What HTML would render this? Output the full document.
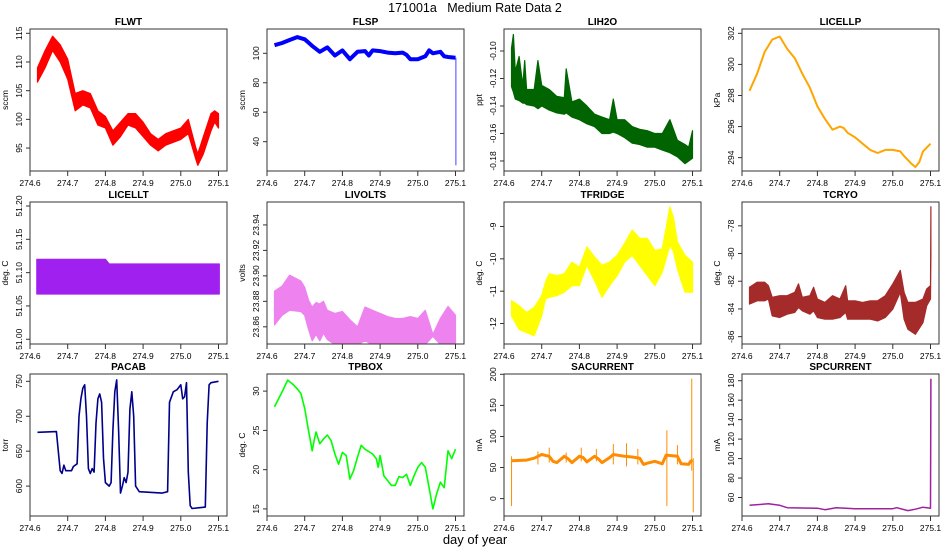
<!DOCTYPE html>
<html><head><meta charset="utf-8"><style>
body{margin:0;background:#fff}
svg{display:block;font-family:"Liberation Sans",sans-serif}
</style></head><body>
<svg id="chart" width="950" height="550" viewBox="0 0 950 550" xmlns="http://www.w3.org/2000/svg">
<text x="475" y="12" text-anchor="middle" font-size="12.5" style="white-space:pre">171001a   Medium Rate Data 2</text>
<text x="475" y="544" text-anchor="middle" font-size="13">day of year</text>
</svg>
<script>
// ---- data ----
const xTicks=[274.6,274.7,274.8,274.9,275.0,275.1];
const xTickLabels=["274.6","274.7","274.8","274.9","275.0","275.1"];

const flwtX=[274.62,274.64,274.66,274.68,274.70,274.72,274.74,274.76,274.78,274.80,274.82,274.84,274.86,274.88,274.90,274.92,274.94,274.96,274.98,275.00,275.02,275.04,275.045,275.06,275.08,275.09,275.10];
const flwtLo=[106.5,109,112,110,107,101.5,102.5,102,99,98.5,95.5,97,99,98.5,97,95.5,94.5,95.5,96,96.5,97.5,93,92,94,98,99.5,98.5];
const flwtHi=[109,112,114.5,113,110.5,104.5,105,104.5,101.5,100.5,98,99.5,101,101,99.5,97.5,96.5,97.5,98,98.5,100,95,94,97,101,101.5,101];

const flspX=[274.62,274.64,274.66,274.68,274.70,274.72,274.74,274.76,274.78,274.80,274.82,274.84,274.86,274.87,274.88,274.90,274.92,274.94,274.96,274.97,274.98,275.00,275.02,275.03,275.04,275.06,275.07,275.08,275.10];
const flspY=[105.5,107,109,111,109.5,105,101,104,98.5,102,96,101,101.5,98.5,102,101.5,100.5,100,100.5,99,96,96,98,102,100,101,98,97.5,97];
const flspDropX=[275.101,275.101];
const flspDropY=[97,24];

const lih2oX=[274.62,274.625,274.63,274.64,274.65,274.655,274.66,274.68,274.69,274.70,274.72,274.74,274.76,274.765,274.78,274.80,274.82,274.84,274.86,274.88,274.89,274.90,274.92,274.94,274.96,274.98,275.00,275.02,275.04,275.06,275.08,275.09,275.10];
const lih2oLo=[-0.126,-0.130,-0.135,-0.136,-0.138,-0.138,-0.139,-0.140,-0.142,-0.140,-0.143,-0.145,-0.146,-0.145,-0.148,-0.150,-0.153,-0.155,-0.160,-0.160,-0.159,-0.160,-0.163,-0.167,-0.168,-0.170,-0.170,-0.172,-0.174,-0.177,-0.182,-0.180,-0.178];
const lih2oHi=[-0.098,-0.088,-0.115,-0.104,-0.125,-0.107,-0.128,-0.128,-0.107,-0.125,-0.128,-0.133,-0.134,-0.113,-0.137,-0.135,-0.140,-0.146,-0.148,-0.150,-0.135,-0.150,-0.150,-0.155,-0.157,-0.158,-0.160,-0.160,-0.150,-0.165,-0.168,-0.170,-0.158];

const licellpX=[274.62,274.64,274.66,274.68,274.70,274.72,274.74,274.76,274.78,274.80,274.82,274.84,274.86,274.87,274.88,274.90,274.92,274.94,274.96,274.98,275.00,275.02,275.03,275.05,275.06,275.07,275.08,275.10];
const licellpY=[298.3,299.4,300.8,301.6,301.8,301.0,300.4,299.4,298.5,297.3,296.5,295.8,296.0,295.9,295.6,295.3,294.9,294.5,294.3,294.5,294.5,294.4,294.1,293.6,293.4,293.7,294.4,294.9];

const licelltX=[274.618,274.80,274.81,275.102];
const licelltLo=[51.068,51.068,51.068,51.068];
const licelltHi=[51.12,51.12,51.113,51.113];

const livoltsX=[274.62,274.64,274.66,274.69,274.70,274.71,274.72,274.73,274.74,274.75,274.76,274.78,274.80,274.82,274.84,274.86,274.88,274.90,274.92,274.94,274.96,274.98,275.00,275.02,275.04,275.06,275.08,275.10];
const livoltsLo=[23.8615,23.869,23.873,23.872,23.869,23.858,23.849,23.854,23.849,23.855,23.850,23.846,23.846,23.846,23.846,23.849,23.846,23.846,23.846,23.846,23.846,23.846,23.846,23.846,23.8526,23.846,23.846,23.846];
const livoltsHi=[23.888,23.892,23.9005,23.896,23.891,23.881,23.8755,23.879,23.878,23.880,23.873,23.8705,23.872,23.8655,23.860,23.8755,23.873,23.8705,23.868,23.8665,23.8665,23.868,23.8665,23.873,23.854,23.8666,23.876,23.869];

const tfridgeX=[274.62,274.64,274.66,274.68,274.70,274.71,274.72,274.74,274.76,274.78,274.80,274.82,274.84,274.86,274.88,274.90,274.92,274.94,274.96,274.98,275.00,275.02,275.04,275.05,275.06,275.08,275.10];
const tfridgeLo=[-11.76,-12.18,-12.28,-12.38,-11.76,-11.24,-11.19,-11.14,-11.03,-10.83,-10.83,-10.2,-10.67,-11.19,-10.83,-10.52,-10.10,-9.89,-10.2,-10.52,-10.83,-10.41,-9.58,-9.79,-10.31,-11.03,-11.03];
const tfridgeHi=[-11.29,-11.45,-11.66,-11.5,-11.14,-10.72,-10.46,-10.52,-10.46,-10.10,-10.26,-9.63,-9.94,-10.2,-10.10,-9.89,-9.53,-9.11,-9.37,-9.37,-9.74,-9.69,-8.39,-8.75,-9.48,-9.89,-10.10];

const tcryoX=[274.62,274.64,274.66,274.67,274.68,274.70,274.72,274.74,274.75,274.76,274.78,274.79,274.80,274.82,274.84,274.86,274.875,274.88,274.90,274.92,274.94,274.96,274.98,275.00,275.02,275.03,275.04,275.06,275.08,275.09,275.10,275.101];
const tcryoLo=[-83.65,-83.41,-83.41,-83.28,-84.5,-84.62,-84.38,-84.25,-83.89,-84.13,-84.38,-84.13,-84.62,-84.74,-84.74,-84.62,-84.25,-84.74,-84.74,-84.74,-84.74,-84.86,-84.62,-84.01,-82.8,-84.74,-85.47,-85.83,-84.98,-83.77,-83.28,-80.13];
const tcryoHi=[-82.44,-82.07,-82.07,-82.32,-83.16,-83.04,-83.04,-82.8,-82.19,-83.16,-83.04,-82.44,-83.28,-83.53,-83.04,-83.28,-82.32,-83.41,-83.41,-83.53,-83.41,-83.41,-83.04,-82.19,-81.22,-82.8,-83.53,-83.53,-83.28,-82.56,-82.32,-76.62];

const pacabX=[274.62,274.67,274.675,274.68,274.685,274.69,274.695,274.71,274.715,274.725,274.73,274.735,274.74,274.745,274.75,274.755,274.76,274.765,274.77,274.775,274.78,274.785,274.79,274.795,274.80,274.81,274.815,274.82,274.825,274.83,274.835,274.84,274.845,274.85,274.855,274.86,274.865,274.87,274.875,274.88,274.89,274.95,274.965,274.97,274.98,274.99,275.00,275.005,275.01,275.015,275.02,275.025,275.03,275.065,275.07,275.075,275.08,275.10];
const pacabY=[677,678,650,622,618,630,622,622,628,632,700,725,740,745,700,625,618,625,620,690,725,732,720,640,605,600,605,680,735,752,680,590,600,612,605,620,710,735,700,600,592,590,592,720,735,738,745,725,728,748,620,572,568,570,690,745,748,750];

const tpboxX=[274.62,274.64,274.655,274.67,274.68,274.69,274.70,274.71,274.72,274.725,274.73,274.74,274.75,274.76,274.77,274.78,274.79,274.80,274.81,274.82,274.83,274.84,274.85,274.86,274.88,274.89,274.895,274.90,274.91,274.93,274.94,274.95,274.96,274.97,274.98,274.99,275.00,275.01,275.02,275.03,275.04,275.05,275.06,275.07,275.08,275.09,275.10];
const tpboxY=[28.0,29.9,31.4,30.8,30.3,29.7,27.8,25.0,22.4,23.7,24.8,23.3,23.9,24.4,23.7,22.0,20.7,22.2,21.8,18.8,19.9,21.6,23.1,22.6,22.0,21.4,20.3,21.8,19.2,18.0,18.0,19.1,19.0,19.4,18.0,19.2,20.3,20.9,20.3,17.7,15.0,16.9,18.4,17.7,22.4,21.4,22.6];

const sacurX=[274.62,274.66,274.68,274.70,274.72,274.73,274.74,274.76,274.77,274.78,274.80,274.81,274.82,274.84,274.85,274.86,274.88,274.89,274.92,274.94,274.96,274.97,274.98,275.00,275.02,275.03,275.06,275.07,275.09,275.095,275.10];
const sacurY=[61,62,65,71,68,60,58,68,64,58,68,66,59,68,64,58,66,71,68,67,65,55,57,60,56,70,68,56,55,60,62];
const sacurSpikeX=[274.62,274.69,274.72,274.765,274.805,274.845,274.89,274.925,274.955,275.032,275.06,275.098,275.102];
const sacurSpikeLo=[-12,55,58,58,60,60,55,52,55,-12,55,45,-22];
const sacurSpikeHi=[68,76,82,74,82,80,88,89,80,110,86,193,65];

const spcurX=[274.62,274.67,274.70,274.72,274.80,274.82,274.85,274.90,275.00,275.01,275.04,275.06,275.08,275.10,275.101];
const spcurY=[52,53.5,52,49.5,49,47.5,49.5,48.5,48.5,49.5,46.5,48,50,49,182];

// ---- layout ----
const NS="http://www.w3.org/2000/svg";
const svg=document.getElementById('chart');
const colLeft=[30,267,504,742], boxW=197;
const rowTop=[29,202,374], boxH=142;
const X0=274.6, X1=274.6+197/377;
function mk(tag,attrs,parent){const e=document.createElementNS(NS,tag);for(const k in attrs)e.setAttribute(k,attrs[k]);(parent||svg).appendChild(e);return e;}

function panel(cfg){
  const L=colLeft[cfg.col], T=rowTop[cfg.row], W=boxW, H=boxH;
  const g=mk('g',{});
  
  
  const xs=v=>L+(v-X0)/(X1-X0)*W;
  const ys=v=>T+H-(v-cfg.y0)/(cfg.y1-cfg.y0)*H;
  const cid='clip-'+cfg.name;
  const cp=mk('clipPath',{id:cid},g); mk('rect',{x:L,y:T,width:W,height:H},cp);
  const plot=mk('g',{'clip-path':'url(#'+cid+')'},g);
  
  
  cfg.draw(plot,xs,ys);
  const box=mk('rect',{x:L,y:T,width:W,height:H,fill:'none',stroke:'#333','stroke-width':1},g);
  
  
  const t=mk('text',{x:L+W/2,y:T-4,'text-anchor':'middle','font-size':10,'font-weight':'bold'},g);
  t.textContent=cfg.title;
  
  
  const xa=mk('g',{},g);
  
  
  mk('line',{x1:xs(xTicks[0]),x2:xs(xTicks[xTicks.length-1]),y1:T+H,y2:T+H,stroke:'#333'},xa);
  xTicks.forEach((v,i)=>{
    mk('line',{x1:xs(v),x2:xs(v),y1:T+H,y2:T+H+5,stroke:'#333'},xa);
    const tl=mk('text',{x:xs(v),y:T+H+15,'text-anchor':'middle','font-size':8.5},xa);
    tl.textContent=xTickLabels[i];
  });
  const ya=mk('g',{},g);
  
  
  mk('line',{x1:L,x2:L,y1:ys(cfg.ticks[0]),y2:ys(cfg.ticks[cfg.ticks.length-1]),stroke:'#333'},ya);
  cfg.ticks.forEach((v,i)=>{
    const y=ys(v);
    mk('line',{x1:L-4,x2:L,y1:y,y2:y,stroke:'#333'},ya);
    const tl=mk('text',{x:L-8,y:y,'text-anchor':'middle','font-size':8.5,transform:'rotate(-90 '+(L-8)+' '+y+')'},ya);
    tl.textContent=cfg.tickLabels[i];
  });
  const yl=mk('text',{x:L-22,y:T+H/2,'text-anchor':'middle','font-size':8.5,transform:'rotate(-90 '+(L-22)+' '+(T+H/2)+')'},g);
  yl.textContent=cfg.ylabel;
  
  
}
function band(p,xs,ys,X,lo,hi,color){
  let d='M'+X.map((x,i)=>xs(x).toFixed(1)+','+ys(hi[i]).toFixed(1)).join('L');
  for(let i=X.length-1;i>=0;i--) d+='L'+xs(X[i]).toFixed(1)+','+ys(lo[i]).toFixed(1);
  const e=mk('path',{d:d+'Z',fill:color,stroke:color,'stroke-width':1.2,'stroke-linejoin':'round'},p);
  
  
}
function line(p,xs,ys,X,Y,color,w){
  const e=mk('polyline',{points:X.map((x,i)=>xs(x).toFixed(1)+','+ys(Y[i]).toFixed(1)).join(' '),fill:'none',stroke:color,'stroke-width':w,'stroke-linejoin':'round'},p);
  
  
}
function spikes(p,xs,ys,X,lo,hi,color){
  X.forEach((x,i)=>{
    const e=mk('line',{x1:xs(x),x2:xs(x),y1:ys(lo[i]),y2:ys(hi[i]),stroke:color,'stroke-width':1},p);
    
    
  });
}

panel({name:'flwt',col:0,row:0,title:'FLWT',ylabel:'sccm',y0:91.0,y1:115.75,ticks:[95,100,105,110,115],tickLabels:['95','100','105','110','115'],
  draw:(p,xs,ys)=>band(p,xs,ys,flwtX,flwtLo,flwtHi,'#ff0000')});
panel({name:'flsp',col:1,row:0,title:'FLSP',ylabel:'sccm',y0:20.1,y1:116.5,ticks:[40,60,80,100],tickLabels:['40','60','80','100'],
  draw:(p,xs,ys)=>{line(p,xs,ys,flspX,flspY,'#0000ff',4);line(p,xs,ys,flspDropX,flspDropY,'#4444ff',1);}});
panel({name:'lih2o',col:2,row:0,title:'LIH2O',ylabel:'ppt',y0:-0.1873,y1:-0.084,ticks:[-0.18,-0.16,-0.14,-0.12,-0.10],tickLabels:['-0.18','-0.16','-0.14','-0.12','-0.10'],
  draw:(p,xs,ys)=>band(p,xs,ys,lih2oX,lih2oLo,lih2oHi,'#006400')});
panel({name:'licellp',col:3,row:0,title:'LICELLP',ylabel:'kPa',y0:293.14,y1:302.28,ticks:[294,296,298,300,302],tickLabels:['294','296','298','300','302'],
  draw:(p,xs,ys)=>line(p,xs,ys,licellpX,licellpY,'#ffa500',2)});
panel({name:'licellt',col:0,row:1,title:'LICELLT',ylabel:'deg. C',y0:50.9929,y1:51.206,ticks:[51.00,51.05,51.10,51.15,51.20],tickLabels:['51.00','51.05','51.10','51.15','51.20'],
  draw:(p,xs,ys)=>band(p,xs,ys,licelltX,licelltLo,licelltHi,'#a020f0')});
panel({name:'livolts',col:1,row:1,title:'LIVOLTS',ylabel:'volts',y0:23.8465,y1:23.958,ticks:[23.86,23.88,23.90,23.92,23.94],tickLabels:['23.86','23.88','23.90','23.92','23.94'],
  draw:(p,xs,ys)=>band(p,xs,ys,livoltsX,livoltsLo,livoltsHi,'#ee82ee')});
panel({name:'tfridge',col:2,row:1,title:'TFRIDGE',ylabel:'deg. C',y0:-12.632,y1:-8.244,ticks:[-12,-11,-10,-9],tickLabels:['-12','-11','-10','-9'],
  draw:(p,xs,ys)=>band(p,xs,ys,tfridgeX,tfridgeLo,tfridgeHi,'#ffff00')});
panel({name:'tcryo',col:3,row:1,title:'TCRYO',ylabel:'deg. C',y0:-86.53,y1:-76.28,ticks:[-86,-84,-82,-80,-78],tickLabels:['-86','-84','-82','-80','-78'],
  draw:(p,xs,ys)=>band(p,xs,ys,tcryoX,tcryoLo,tcryoHi,'#a52a2a')});
panel({name:'pacab',col:0,row:2,title:'PACAB',ylabel:'torr',y0:557.2,y1:760.5,ticks:[600,650,700,750],tickLabels:['600','650','700','750'],
  draw:(p,xs,ys)=>line(p,xs,ys,pacabX,pacabY,'#00008b',1.6)});
panel({name:'tpbox',col:1,row:2,title:'TPBOX',ylabel:'deg. C',y0:14.1,y1:32.18,ticks:[15,20,25,30],tickLabels:['15','20','25','30'],
  draw:(p,xs,ys)=>line(p,xs,ys,tpboxX,tpboxY,'#00ff00',1.6)});
panel({name:'sacurrent',col:2,row:2,title:'SACURRENT',ylabel:'mA',y0:-28,y1:200.5,ticks:[0,50,100,150,200],tickLabels:['0','50','100','150','200'],
  draw:(p,xs,ys)=>{line(p,xs,ys,sacurX,sacurY,'#ff8c00',3);spikes(p,xs,ys,sacurSpikeX,sacurSpikeLo,sacurSpikeHi,'#ff8c00');}});
panel({name:'spcurrent',col:3,row:2,title:'SPCURRENT',ylabel:'mA',y0:41,y1:186.9,ticks:[60,80,100,120,140,160,180],tickLabels:['60','80','100','120','140','160','180'],
  draw:(p,xs,ys)=>line(p,xs,ys,spcurX,spcurY,'#a020a0',1.5)});
</script>
</body></html>
